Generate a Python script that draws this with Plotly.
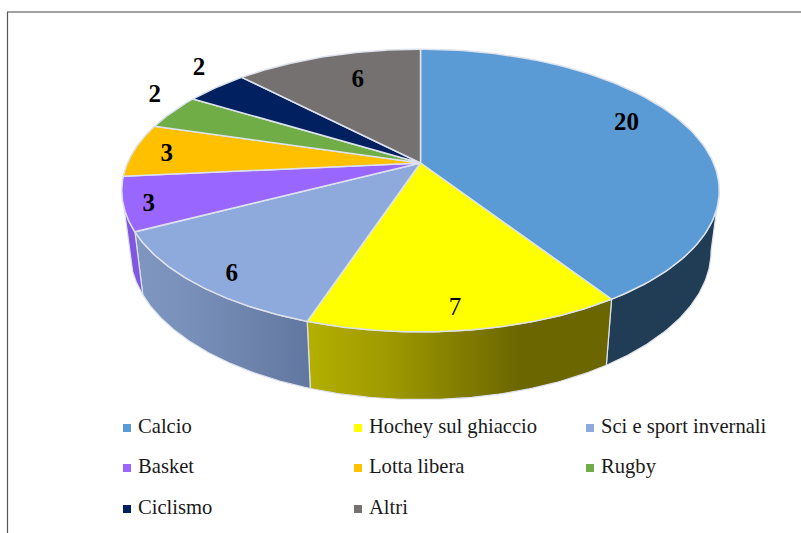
import numpy as np
import plotly.graph_objects as go

# --- data ---
categories = ["Calcio", "Hochey sul ghiaccio", "Sci e sport invernali", "Basket",
              "Lotta libera", "Rugby", "Ciclismo", "Altri"]
values = [20, 7, 6, 3, 3, 2, 2, 6]
top_colors = ["#5B9BD5", "#FFFF00", "#8EA9DB", "#9966FF", "#FFC000", "#70AD47", "#002060", "#767171"]
wall_scales = [
    [[0, "#213C55"], [1, "#213C55"]],
    [[0, "#B4AF00"], [0.25, "#A09B00"], [0.7, "#6B6600"], [1, "#6B6600"]],
    [[0, "#7F96C0"], [0.3, "#7890BA"], [1, "#62779F"]],
    [[0, "#8257E0"], [1, "#8257E0"]],
    [[0, "#D9A300"], [1, "#D9A300"]],
    [[0, "#5F933C"], [1, "#5F933C"]],
    [[0, "#001B52"], [1, "#001B52"]],
    [[0, "#646060"], [1, "#646060"]],
]
# label placement in disc coordinates: radial fraction, angle shift from slice centre (deg)
label_radius = [0.815, 0.882, 0.892, 0.92, 0.882, 1.157, 1.205, 0.741]
label_shift = [-6.9, 1.0, -1.8, -1.0, -0.6, 5.6, 4.7, 2.9]

# --- projection of the tilted disc ---
CX, K = 420.5, 0.195
TOP = dict(h=293.0, g=136.0, y0=163.0)
BOTTOM = dict(h=285.0, g=143.0, y0=222.0)
TANGENT_R, TANGENT_L = 101.2, 258.8


def project(theta_deg, r, face):
    t = np.radians(np.asarray(theta_deg, dtype=float))
    X, Y = r * np.sin(t), r * np.cos(t)
    d = 1 + K * Y
    return CX + face["h"] * X / d, face["y0"] - face["g"] * Y / d


EDGE = "#DDE2EC"
fig = go.Figure()
edges = 360 * np.cumsum([0] + values) / sum(values)

# side walls
for i, cat in enumerate(categories):
    a0, a1 = max(edges[i], TANGENT_R), min(edges[i + 1], TANGENT_L)
    if a1 <= a0:
        continue
    th = np.linspace(a0, a1, 80)
    xt, yt = project(th, 1, TOP)
    xb, yb = project(th, 1, BOTTOM)
    fig.add_trace(go.Scatter(
        x=np.r_[xt, xb[::-1], xt[0]], y=np.r_[yt, yb[::-1], yt[0]],
        mode="lines", fill="toself", line=dict(color=EDGE, width=1.2),
        fillgradient=dict(type="horizontal", colorscale=wall_scales[i]),
        hoverinfo="skip", showlegend=False))

# top faces
for i, cat in enumerate(categories):
    th = np.linspace(edges[i], edges[i + 1], 120)
    x, y = project(th, 1, TOP)
    fig.add_trace(go.Scatter(
        x=np.r_[CX, x, CX], y=np.r_[TOP["y0"], y, TOP["y0"]],
        mode="lines", fill="toself", fillcolor=top_colors[i],
        line=dict(color=EDGE, width=1.5), name=cat,
        text=f"{cat}: {values[i]}", hoverinfo="text", hoveron="fills", showlegend=False))

# value labels
mids = (edges[:-1] + edges[1:]) / 2 + np.array(label_shift)
lx, ly = project(mids, np.array(label_radius), TOP)
fig.add_trace(go.Scatter(
    x=lx, y=ly + 2, mode="text", text=[str(v) for v in values], textposition="middle center",
    textfont=dict(family="Liberation Serif", size=25, color="#000000",
                  weight=[700, 400, 700, 700, 700, 700, 700, 700]),
    hoverinfo="skip", showlegend=False))

# legend grid
COLS = [127.0, 358.0, 590.0]
ROWS = [428.0, 468.0, 509.0]
for i, cat in enumerate(categories):
    mx, my = COLS[i % 3], ROWS[i // 3]
    fig.add_trace(go.Scatter(
        x=[mx], y=[my], mode="markers",
        marker=dict(symbol="square", size=8, color=top_colors[i], line=dict(width=0)),
        hoverinfo="skip", showlegend=False))
    fig.add_trace(go.Scatter(
        x=[mx + 11], y=[my], mode="text", text=[cat], textposition="middle right",
        textfont=dict(family="Liberation Serif", size=20.6, color="#1a1a1a"),
        hoverinfo="skip", showlegend=False))

fig.update_layout(
    width=801, height=533, margin=dict(l=0, r=0, t=0, b=0),
    paper_bgcolor="white", plot_bgcolor="white", showlegend=False,
    xaxis=dict(range=[0, 801], visible=False, fixedrange=True),
    yaxis=dict(range=[533, 0], visible=False, fixedrange=True),
    shapes=[
        dict(type="line", x0=7, x1=801, y0=12, y1=12, line=dict(color="#444444", width=1.2)),
        dict(type="line", x0=7.5, x1=7.5, y0=12, y1=533, line=dict(color="#555555", width=1.2)),
    ],
)
fig.write_html("out.html", config={"displayModeBar": False},
               post_script="document.body.style.margin='0';document.documentElement.style.overflow='hidden';")
